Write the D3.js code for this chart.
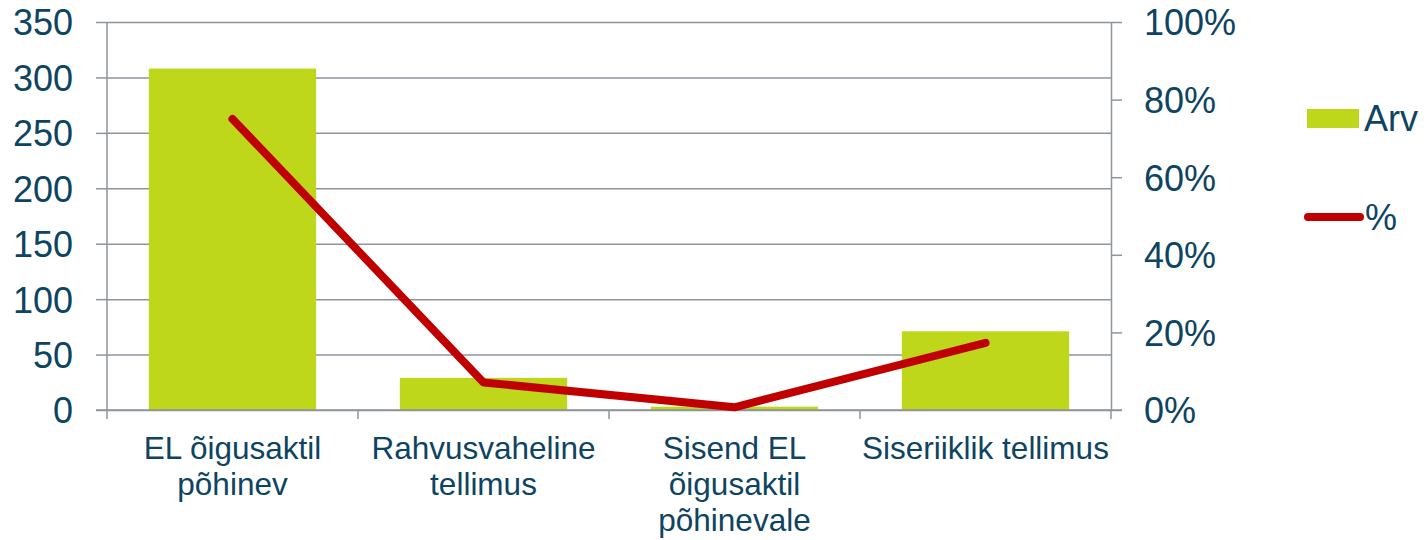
<!DOCTYPE html>
<html>
<head>
<meta charset="utf-8">
<script src="https://cdn.jsdelivr.net/npm/d3@7"></script>
<style>
  body { margin: 0; background: #fff; }
  svg text { font-family: "Liberation Sans", Arial, sans-serif; fill: #0d4461; }
</style>
</head>
<body>
<svg id="chart"></svg>
<script>
// chart data
var categories = [
  'EL õigusaktil põhinev',
  'Rahvusvaheline tellimus',
  'Sisend EL õigusaktil põhinevale',
  'Siseriiklik tellimus'
];
// how each category label is broken into lines
var categoryLines = [
  ['EL õigusaktil', 'põhinev'],
  ['Rahvusvaheline', 'tellimus'],
  ['Sisend EL', 'õigusaktil', 'põhinevale'],
  ['Siseriiklik tellimus']
];
var counts = [308, 29, 3, 71];           // Arv
var shares = [0.75, 0.071, 0.007, 0.173]; // %
var countTicks = [0, 50, 100, 150, 200, 250, 300, 350];
var shareTicks = [0, 0.2, 0.4, 0.6, 0.8, 1];
var seriesNames = ['Arv', '%'];

var width = 1428,
    height = 540,
    plotLeft = 107,
    plotRight = 1111,
    plotTop = 22,
    plotBottom = 410,
    gridColor = '#8e959c',
    barColor = '#bed71a',
    lineColor = '#c00000';

var svg = d3.select('#chart')
  .attr('width', width)
  .attr('height', height);

var x = d3.scaleBand()
  .domain(categories)
  .range([plotLeft, plotRight])
  .paddingInner(1 / 3)
  .paddingOuter(1 / 6);

var yCount = d3.scaleLinear().domain([0, 350]).range([plotBottom, plotTop]);
var yShare = d3.scaleLinear().domain([0, 1]).range([plotBottom, plotTop]);

// horizontal gridlines + left axis
var leftAxis = svg.append('g')
  .attr('transform', 'translate(' + plotLeft + ',0)')
  .call(d3.axisLeft(yCount)
    .tickValues(countTicks)
    .tickSize(11)
    .tickPadding(23));
leftAxis.select('.domain').remove();
leftAxis.selectAll('.tick line')
  .attr('x2', -11)
  .attr('stroke', gridColor)
  .attr('stroke-width', 1.5)
  .clone()
  .attr('x1', 0)
  .attr('x2', plotRight - plotLeft);
leftAxis.selectAll('.tick text')
  .style('font-size', '36px')
  .attr('dy', '0.36em');

// vertical axis lines
svg.append('line')
  .attr('x1', plotLeft).attr('x2', plotLeft)
  .attr('y1', plotTop).attr('y2', plotBottom)
  .attr('stroke', gridColor).attr('stroke-width', 1.5);

var rightAxis = svg.append('g')
  .attr('transform', 'translate(' + plotRight + ',0)')
  .call(d3.axisRight(yShare)
    .tickValues(shareTicks)
    .tickFormat(d3.format('.0%'))
    .tickSize(11)
    .tickPadding(22)
    .tickSizeOuter(0));
rightAxis.select('.domain')
  .attr('stroke', gridColor).attr('stroke-width', 1.5);
rightAxis.selectAll('.tick line')
  .attr('stroke', gridColor).attr('stroke-width', 1.5);
rightAxis.selectAll('.tick text')
  .style('font-size', '36px')
  .attr('dy', '0.36em');

// category axis: ticks sit on the band boundaries
var bounds = categories.map(function (c) { return x(c) - x.step() * x.paddingInner() / 2; });
bounds.push(plotRight);
svg.selectAll('.cat-tick')
  .data(bounds)
  .enter().append('line')
  .attr('class', 'cat-tick')
  .attr('x1', function (d) { return d; })
  .attr('x2', function (d) { return d; })
  .attr('y1', plotBottom)
  .attr('y2', plotBottom + 9)
  .attr('stroke', gridColor)
  .attr('stroke-width', 1.5);

// bars
svg.selectAll('.bar')
  .data(categories)
  .enter().append('rect')
  .attr('class', 'bar')
  .attr('x', function (d) { return x(d); })
  .attr('width', x.bandwidth())
  .attr('y', function (d, i) { return yCount(counts[i]); })
  .attr('height', function (d, i) { return yCount(0) - yCount(counts[i]); })
  .attr('fill', barColor);

// baseline drawn over bars
svg.append('line')
  .attr('x1', plotLeft - 11).attr('x2', plotRight + 11)
  .attr('y1', plotBottom).attr('y2', plotBottom)
  .attr('stroke', gridColor).attr('stroke-width', 1.5);

// share line
var line = d3.line()
  .x(function (d, i) { return x(categories[i]) + x.bandwidth() / 2; })
  .y(function (d) { return yShare(d); });

svg.append('path')
  .datum(shares)
  .attr('d', line)
  .attr('fill', 'none')
  .attr('stroke', lineColor)
  .attr('stroke-width', 8)
  .attr('stroke-linecap', 'round')
  .attr('stroke-linejoin', 'round');

// category labels
svg.selectAll('.cat-label')
  .data(categories)
  .enter().append('text')
  .attr('class', 'cat-label')
  .attr('text-anchor', 'middle')
  .style('font-size', '31.5px')
  .each(function (d, i) {
    var t = d3.select(this);
    categoryLines[i].forEach(function (s, j) {
      t.append('tspan')
        .attr('x', x(d) + x.bandwidth() / 2)
        .attr('y', 459 + j * 36)
        .text(s);
    });
  });

// legend
var legend = svg.append('g');
legend.append('rect')
  .attr('x', 1307).attr('y', 109)
  .attr('width', 52).attr('height', 19)
  .attr('fill', barColor);
legend.append('text')
  .attr('x', 1364).attr('y', 131)
  .style('font-size', '36px')
  .text(seriesNames[0]);
legend.append('line')
  .attr('x1', 1308).attr('x2', 1360)
  .attr('y1', 217).attr('y2', 217)
  .attr('stroke', lineColor)
  .attr('stroke-width', 8)
  .attr('stroke-linecap', 'round');
legend.append('text')
  .attr('x', 1365).attr('y', 230)
  .style('font-size', '36px')
  .text(seriesNames[1]);
</script>
</body>
</html>
